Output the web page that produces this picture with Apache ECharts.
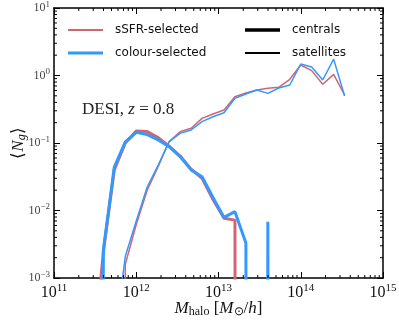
<!DOCTYPE html>
<html>
<head>
<meta charset="utf-8">
<script src="https://cdn.jsdelivr.net/npm/echarts@6/dist/echarts.min.js"></script>
<style>
html, body { margin: 0; padding: 0; background: #fff; }
#chart { width: 399px; height: 320px; }
</style>
</head>
<body>
<div id="chart"></div>
<script>
// log10 of halo mass at bin centres
var logMass = [11.067, 11.2, 11.333, 11.467, 11.6, 11.733, 11.867, 12.0, 12.133,
	12.267, 12.4, 12.533, 12.667, 12.8, 12.933, 13.067, 13.2, 13.333, 13.467,
	13.6, 13.733, 13.867, 14.0, 14.133, 14.267, 14.4, 14.533];

// <N_g> centrals
var centralsSSFR = [0, 0, 0, 0.00005, 0.0024, 0.040, 0.100, 0.150, 0.148,
	0.120, 0.090, 0.064, 0.041, 0.030, 0.0145, 0.0077, 0.0072, 0, 0,
	0, 0, 0, 0, 0, 0, 0, 0];
var centralsColour = [0, 0, 0, 0, 0.0026, 0.044, 0.104, 0.144, 0.133,
	0.111, 0.088, 0.063, 0.040, 0.0317, 0.0156, 0.0079, 0.0096, 0.0033, 0,
	0.0068, 0, 0, 0, 0, 0, 0, 0];

// <N_g> satellites
var satsSSFR = [0, 0, 0, 0, 0, 0, 0.0016, 0.0062, 0.020,
	0.045, 0.105, 0.147, 0.165, 0.232, 0.269, 0.308, 0.485, 0.551, 0.61,
	0.646, 0.668, 0.879, 1.43, 1.18, 0.742, 1.04, 0.514];
var satsColour = [0, 0, 0, 0, 0, 0.00011, 0.0021, 0.0070, 0.0223,
	0.047, 0.105, 0.139, 0.156, 0.207, 0.245, 0.281, 0.459, 0.532, 0.61,
	0.544, 0.653, 0.723, 1.48, 1.34, 0.857, 1.75, 0.497];

var xDecades = [11, 12, 13, 14];
var yDecades = [-3, -2, -1, 0];
var minorMult = [2, 3, 4, 5, 6, 7, 8, 9];

var RED = '#d06574';
var BLUE = '#3399ff';
var SERIF = 'Liberation Serif';

// zero bins are clipped far below the axis like matplotlib does
function pairs(vals) {
	return vals.map(function (v, i) {
		return [Math.pow(10, logMass[i]), v > 0 ? v : 1e-100];
	});
}

function expLabel(v) {
	var e = Math.round(Math.log10(v));
	return '{b|10}{e|' + String(e).replace('-', '\u2212') + '}';
}

// legend handle: a horizontal bar of thickness t inside a 35x14 box
function handle(t) {
	var a = (7 - t / 2).toFixed(2), b = (7 + t / 2).toFixed(2);
	return 'path://M0,0L0.01,0M0,14L0.01,14M0,' + a + 'L35,' + a + 'L35,' + b + 'L0,' + b + 'Z';
}

var xMinor = [];
xDecades.forEach(function (d) {
	minorMult.forEach(function (m) { xMinor.push([m * Math.pow(10, d), 1]); });
});
var yMinor = [];
yDecades.forEach(function (d) {
	minorMult.forEach(function (m) { yMinor.push([1e12, m * Math.pow(10, d)]); });
});

var myChart = echarts.init(document.getElementById('chart'));

var legendText = { fontFamily: 'DejaVu Sans', fontSize: 12, color: '#111', padding: [0, 0, 0, 7] };

var option = {
	animation: false,
	grid: { left: 54, right: 16, top: 8, bottom: 42, outerBoundsMode: 'none', containLabel: false },
	title: {
		text: '{r|DESI, }{i|z}{r| = 0.8}',
		left: 77,
		top: 96,
		textStyle: {
			fontWeight: 'normal',
			rich: {
				r: { fontFamily: SERIF, fontSize: 17, fontWeight: 'normal', color: '#222' },
				i: { fontFamily: SERIF, fontSize: 17, fontWeight: 'normal', fontStyle: 'italic', color: '#222' }
			}
		}
	},
	legend: [{
		left: 63,
		top: 18,
		orient: 'vertical',
		itemWidth: 35,
		itemHeight: 14,
		itemGap: 9,
		textStyle: legendText,
		data: [
			{ name: 'sSFR-selected', icon: handle(2), itemStyle: { color: RED } },
			{ name: 'colour-selected', icon: handle(3), itemStyle: { color: BLUE } }
		]
	}, {
		left: 240,
		top: 18,
		orient: 'vertical',
		itemWidth: 35,
		itemHeight: 14,
		itemGap: 9,
		textStyle: legendText,
		data: [
			{ name: 'centrals', icon: handle(3.5), itemStyle: { color: '#000' } },
			{ name: 'satellites', icon: handle(2), itemStyle: { color: '#000' } }
		]
	}],
	xAxis: [{
		type: 'log',
		logBase: 10,
		min: 1e11,
		max: 1e15,
		position: 'bottom',
		axisLine: { lineStyle: { color: '#000', width: 1.5 } },
		axisTick: { inside: true, length: 6, lineStyle: { color: '#000', width: 1 } },
		splitLine: { show: false },
		axisLabel: {
			margin: 5,
			showMinLabel: true,
			showMaxLabel: true,
			formatter: expLabel,
			rich: {
				b: { fontFamily: SERIF, fontSize: 16, color: '#111' },
				e: { fontFamily: SERIF, fontSize: 11, color: '#111', padding: [0, 0, 9, 0] }
			}
		},
		name: '{i|M}{s|halo}{r| [}{i|M}{s|\u2299}{r|/}{i|h}{r|]}',
		nameLocation: 'middle',
		nameMoveOverlap: false,
		nameGap: 21,
		nameTextStyle: {
			rich: {
				i: { fontFamily: SERIF, fontSize: 17, fontStyle: 'italic', color: '#111' },
				r: { fontFamily: SERIF, fontSize: 17, color: '#111' },
				s: { fontFamily: SERIF, fontSize: 12, color: '#111', padding: [7, 0, 0, 0] }
			}
		}
	}, {
		type: 'log',
		logBase: 10,
		min: 1e11,
		max: 1e15,
		position: 'top',
		axisLine: { lineStyle: { color: '#000', width: 1.5 } },
		axisTick: { inside: true, length: 6, lineStyle: { color: '#000', width: 1 } },
		axisLabel: { show: false },
		splitLine: { show: false }
	}],
	yAxis: [{
		type: 'log',
		logBase: 10,
		min: 1e-3,
		max: 10,
		position: 'left',
		axisLine: { lineStyle: { color: '#000', width: 1.5 } },
		axisTick: { inside: true, length: 6, lineStyle: { color: '#000', width: 1 } },
		splitLine: { show: false },
		axisLabel: {
			margin: 4,
			showMinLabel: true,
			showMaxLabel: true,
			formatter: expLabel,
			rich: {
				b: { fontFamily: SERIF, fontSize: 12, color: '#444' },
				e: { fontFamily: SERIF, fontSize: 9, color: '#444', padding: [0, 0, 7, 0] }
			}
		},
		name: '{r|\u27e8}{i|N}{s|g}{r|\u27e9}',
		nameLocation: 'middle',
		nameMoveOverlap: false,
		nameGap: 26,
		nameTextStyle: {
			rich: {
				i: { fontFamily: SERIF, fontSize: 17, fontStyle: 'italic', color: '#111' },
				r: { fontFamily: SERIF, fontSize: 17, color: '#111' },
				s: { fontFamily: SERIF, fontSize: 12, fontStyle: 'italic', color: '#111', padding: [7, 0, 0, 0] }
			}
		}
	}, {
		type: 'log',
		logBase: 10,
		min: 1e-3,
		max: 10,
		position: 'right',
		axisLine: { lineStyle: { color: '#000', width: 1.5 } },
		axisTick: { inside: true, length: 6, lineStyle: { color: '#000', width: 1 } },
		axisLabel: { show: false },
		splitLine: { show: false }
	}],
	series: [{
		name: 'sSFR-selected',
		type: 'line',
		symbol: 'none',
		data: pairs(satsSSFR),
		lineStyle: { width: 1.5, color: RED },
		itemStyle: { color: RED }
	}, {
		name: 'sSFR-selected',
		type: 'line',
		symbol: 'none',
		data: pairs(centralsSSFR),
		lineStyle: { width: 3, color: RED },
		itemStyle: { color: RED }
	}, {
		name: 'colour-selected',
		type: 'line',
		symbol: 'none',
		data: pairs(satsColour),
		lineStyle: { width: 1.5, color: BLUE },
		itemStyle: { color: BLUE }
	}, {
		name: 'colour-selected',
		type: 'line',
		symbol: 'none',
		data: pairs(centralsColour),
		lineStyle: { width: 3, color: BLUE },
		itemStyle: { color: BLUE }
	}, {
		name: 'centrals',
		type: 'line',
		symbol: 'none',
		data: [],
		itemStyle: { color: '#000' }
	}, {
		name: 'satellites',
		type: 'line',
		symbol: 'none',
		data: [],
		itemStyle: { color: '#000' }
	}, {
		// minor ticks on bottom and top axes
		type: 'custom',
		silent: true,
		z: 10,
		data: xMinor,
		renderItem: function (params, api) {
			var lo = api.coord([api.value(0), 1e-3]);
			var hi = api.coord([api.value(0), 10]);
			var st = { stroke: '#000', lineWidth: 1 };
			return {
				type: 'group',
				children: [
					{ type: 'line', shape: { x1: lo[0], y1: lo[1], x2: lo[0], y2: lo[1] - 3 }, style: st },
					{ type: 'line', shape: { x1: hi[0], y1: hi[1], x2: hi[0], y2: hi[1] + 3 }, style: st }
				]
			};
		}
	}, {
		// minor ticks on left and right axes
		type: 'custom',
		silent: true,
		z: 10,
		data: yMinor,
		renderItem: function (params, api) {
			var l = api.coord([1e11, api.value(1)]);
			var r = api.coord([1e15, api.value(1)]);
			var st = { stroke: '#000', lineWidth: 1 };
			return {
				type: 'group',
				children: [
					{ type: 'line', shape: { x1: l[0], y1: l[1], x2: l[0] + 3, y2: l[1] }, style: st },
					{ type: 'line', shape: { x1: r[0], y1: r[1], x2: r[0] - 3, y2: r[1] }, style: st }
				]
			};
		}
	}]
};

myChart.setOption(option);
window.addEventListener('resize', function () {
	myChart.resize();
});
</script>
</body>
</html>
